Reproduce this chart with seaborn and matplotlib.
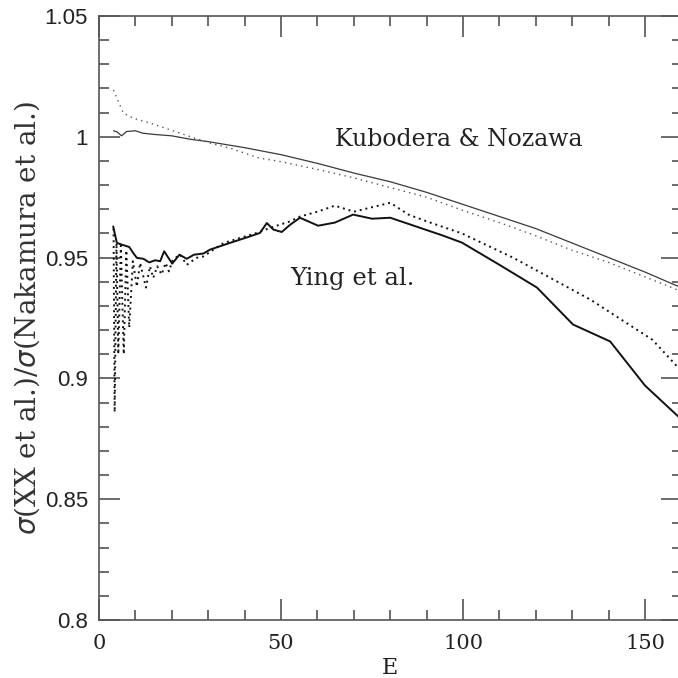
import matplotlib
matplotlib.use("Agg")
import matplotlib.pyplot as plt
from matplotlib.ticker import MultipleLocator, FuncFormatter
import seaborn as sns
import pandas as pd

# Kubodera & Nozawa
kn_solid_x = [4, 5, 6.2, 7.6, 10, 12, 15, 20, 25, 30, 40, 50, 60, 70, 80, 90, 100, 110, 120, 130, 140, 150, 160]
kn_solid_y = [1.0025, 1.002, 1.0004, 1.0022, 1.0025, 1.0015, 1.001, 1.0004, 0.999, 0.998, 0.9955, 0.9926,
              0.989, 0.985, 0.9814, 0.977, 0.972, 0.967, 0.962, 0.956, 0.950, 0.944, 0.9375]
kn_dot_x = [4, 5.3, 6.7, 9.4, 14, 19.5, 25, 30.5, 36, 44, 50, 60, 70, 80, 90, 100, 110, 120, 130, 140, 150, 160]
kn_dot_y = [1.0194, 1.0146, 1.0098, 1.0077, 1.0057, 1.0029, 1.0001, 0.9974, 0.9953, 0.9912, 0.9897, 0.9865,
            0.983, 0.979, 0.975, 0.9695, 0.9645, 0.959, 0.953, 0.948, 0.942, 0.936]

# Ying et al.
ying_solid_x = [3.9, 4.9, 6.2, 8.3, 9.4, 10.4, 12.2, 13.8, 15.4, 16.8, 17.9, 20.1, 22.1, 24.1, 26.1, 28.7,
                30.5, 36, 41.5, 44.2, 46.1, 47.9, 50.2, 52.5, 55.2, 60.2, 64.8, 69.8, 75, 80, 94.5, 99.7,
                110, 120.3, 130.2, 140.4, 150, 160]
ying_solid_y = [0.9629, 0.9561, 0.9554, 0.9544, 0.9519, 0.9499, 0.9495, 0.948, 0.9489, 0.9485, 0.9526,
                0.9475, 0.9512, 0.9495, 0.9512, 0.9517, 0.9533, 0.9561, 0.9588, 0.9602, 0.9643, 0.9616,
                0.9606, 0.9636, 0.9665, 0.9632, 0.9645, 0.9678, 0.9661, 0.9665, 0.9591, 0.9562, 0.947,
                0.9376, 0.9223, 0.9153, 0.897, 0.883]
ying_dot_x = [4.0, 4.3, 4.8, 5.3, 6.0, 6.8, 7.5, 8.3, 9.3, 10.4, 11.3, 12.9, 14.0, 14.9, 16.0, 17.2, 18.3,
              19.2, 20.3, 22.3, 24.1, 26.8, 28.7, 31.4, 34.2, 38.7, 43.3, 47, 52.5, 55.2, 60, 64.8, 70,
              80, 85, 90, 99.7, 113.7, 135, 152, 160]
ying_dot_y = [0.962, 0.886, 0.956, 0.910, 0.955, 0.910, 0.953, 0.921, 0.9485, 0.938, 0.9478, 0.9376,
              0.9464, 0.9416, 0.9464, 0.943, 0.9478, 0.9443, 0.9492, 0.9512, 0.947, 0.9499, 0.9505,
              0.9533, 0.956, 0.9581, 0.9602, 0.9623, 0.965, 0.967, 0.969, 0.9715, 0.969, 0.9727,
              0.9678, 0.965, 0.960, 0.950, 0.9326, 0.916, 0.903]

x_ticks = [0, 50, 100, 150]
y_ticks = [0.8, 0.85, 0.9, 0.95, 1.0, 1.05]

sns.set_style("ticks")
plt.rcParams["font.family"] = ["DejaVu Serif"]

fig = plt.figure(figsize=(6.78, 6.78), dpi=100)
ax = fig.add_axes([99 / 678, 58 / 678, 582.5 / 678, 604 / 678])

styles = [
    (kn_solid_x, kn_solid_y, dict(color="#3a3a3a", lw=0.9, ls="-")),
    (kn_dot_x, kn_dot_y, dict(color="#555555", lw=1.0, ls=(0, (1, 3)))),
    (ying_solid_x, ying_solid_y, dict(color="#111111", lw=1.4, ls="-")),
    (ying_dot_x, ying_dot_y, dict(color="#111111", lw=1.4, ls=(0, (1, 2)))),
]
for xs, ys, st in styles:
    df = pd.DataFrame({"E": xs, "r": ys})
    sns.lineplot(data=df, x="E", y="r", ax=ax, sort=False, estimator=None,
                 color=st["color"], linewidth=st["lw"], linestyle=st["ls"])

ax.set_xlim(0, 160)
ax.set_ylim(0.8, 1.05)
ax.set_xticks(x_ticks)
ax.set_yticks(y_ticks)
ax.xaxis.set_minor_locator(MultipleLocator(10))
ax.yaxis.set_minor_locator(MultipleLocator(0.01))
ax.yaxis.set_major_formatter(FuncFormatter(lambda v, p: f"{v:g}"))
ax.tick_params(which="both", direction="in", top=True, right=True, color="#444444", width=1.1)
ax.tick_params(which="major", length=15)
ax.tick_params(axis="y", which="major", pad=8)
ax.tick_params(axis="x", which="major", pad=10)
ax.tick_params(which="minor", length=7.5)
for lab in ax.get_yticklabels():
    lab.set_fontfamily("Liberation Sans")
    lab.set_fontsize(16)
    lab.set_color("#222222")
for lab in ax.get_xticklabels():
    lab.set_fontfamily("DejaVu Serif")
    lab.set_fontsize(15)
    lab.set_color("#222222")
for s in ax.spines.values():
    s.set_color("#555555")
    s.set_linewidth(1.2)

ax.set_xlabel("E", fontsize=16, labelpad=3, color="#222222")
ax.set_ylabel(r"$\sigma$(XX et al.)/$\sigma$(Nakamura et al.)", fontsize=20, labelpad=2, color="#333333")

ax.text(64.8, 0.9988, "Kubodera & Nozawa", fontsize=17, va="center", ha="left", color="#222222")
ax.text(52.5, 0.9413, "Ying et al.", fontsize=17.5, va="center", ha="left", color="#222222")

fig.savefig("out.png", dpi=100)
